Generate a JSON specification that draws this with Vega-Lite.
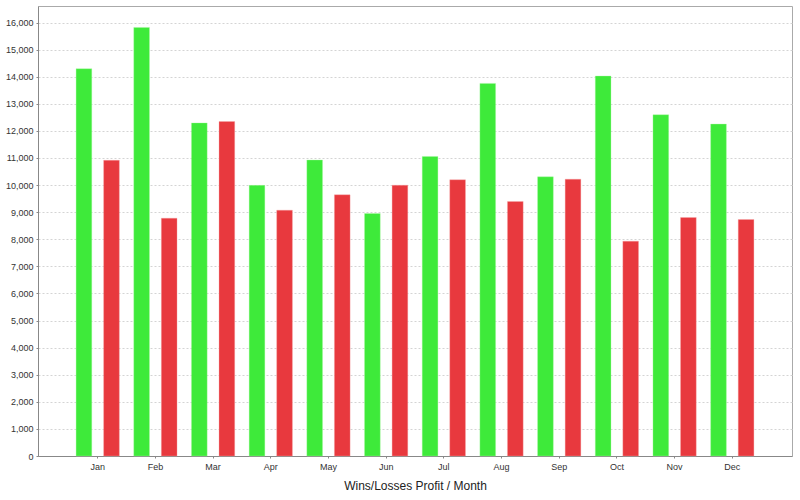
{
  "$schema": "https://vega.github.io/schema/vega-lite/v6.json",
  "width": 754,
  "height": 450,
  "autosize": {"type": "none"},
  "padding": {"left": 38, "top": 6, "right": 8, "bottom": 44},
  "background": "white",
  "config": {
    "view": {"stroke": "#aaaaaa", "strokeWidth": 1},
    "font": "Liberation Sans"
  },
  "data": {
    "values": [
      {"month": "Jan", "type": "Wins", "value": 14295},
      {"month": "Jan", "type": "Losses", "value": 10914},
      {"month": "Feb", "type": "Wins", "value": 15819},
      {"month": "Feb", "type": "Losses", "value": 8778},
      {"month": "Mar", "type": "Wins", "value": 12296},
      {"month": "Mar", "type": "Losses", "value": 12346},
      {"month": "Apr", "type": "Wins", "value": 9990},
      {"month": "Apr", "type": "Losses", "value": 9074},
      {"month": "May", "type": "Wins", "value": 10926},
      {"month": "May", "type": "Losses", "value": 9642},
      {"month": "Jun", "type": "Wins", "value": 8951},
      {"month": "Jun", "type": "Losses", "value": 9995},
      {"month": "Jul", "type": "Wins", "value": 11057},
      {"month": "Jul", "type": "Losses", "value": 10195},
      {"month": "Aug", "type": "Wins", "value": 13754},
      {"month": "Aug", "type": "Losses", "value": 9394},
      {"month": "Sep", "type": "Wins", "value": 10305},
      {"month": "Sep", "type": "Losses", "value": 10219},
      {"month": "Oct", "type": "Wins", "value": 14025},
      {"month": "Oct", "type": "Losses", "value": 7929},
      {"month": "Nov", "type": "Wins", "value": 12596},
      {"month": "Nov", "type": "Losses", "value": 8803},
      {"month": "Dec", "type": "Wins", "value": 12251},
      {"month": "Dec", "type": "Losses", "value": 8729}
    ]
  },
  "mark": {"type": "bar", "strokeWidth": 1, "strokeOpacity": 0.35},
  "encoding": {
    "x": {
      "field": "month",
      "type": "nominal",
      "sort": ["Jan","Feb","Mar","Apr","May","Jun","Jul","Aug","Sep","Oct","Nov","Dec"],
      "scale": {"paddingInner": 0.25, "paddingOuter": 0.66},
      "axis": {
        "title": "Wins/Losses Profit / Month",
        "titleFont": "Liberation Sans",
        "titleFontSize": 12,
        "titleFontWeight": "normal",
        "titleColor": "#222222",
        "titlePadding": 9,
        "labelAngle": 0,
        "labelFontSize": 9,
        "labelColor": "#333333",
        "labelPadding": 4,
        "tickSize": 2,
        "tickColor": "#888888",
        "domainColor": "#888888",
        "grid": false
      }
    },
    "xOffset": {
      "field": "type",
      "type": "nominal",
      "sort": ["Wins", "Losses"],
      "scale": {"paddingInner": 0.43, "paddingOuter": 0}
    },
    "y": {
      "field": "value",
      "type": "quantitative",
      "scale": {"domain": [0, 16610], "nice": false},
      "axis": {
        "title": null,
        "values": [0,1000,2000,3000,4000,5000,6000,7000,8000,9000,10000,11000,12000,13000,14000,15000,16000],
        "format": ",d",
        "labelFontSize": 9,
        "labelColor": "#333333",
        "labelPadding": 3,
        "tickSize": 2,
        "tickColor": "#888888",
        "domainColor": "#888888",
        "grid": true,
        "gridColor": "#d4d4d4",
        "gridDash": [2, 2]
      }
    },
    "color": {
      "field": "type",
      "type": "nominal",
      "scale": {"domain": ["Wins", "Losses"], "range": ["#3eea3a", "#e8393e"]},
      "legend": null
    },
    "stroke": {
      "field": "type",
      "type": "nominal",
      "scale": {"domain": ["Wins", "Losses"], "range": ["#a8f8a0", "#f6a8a8"]},
      "legend": null
    }
  }
}
